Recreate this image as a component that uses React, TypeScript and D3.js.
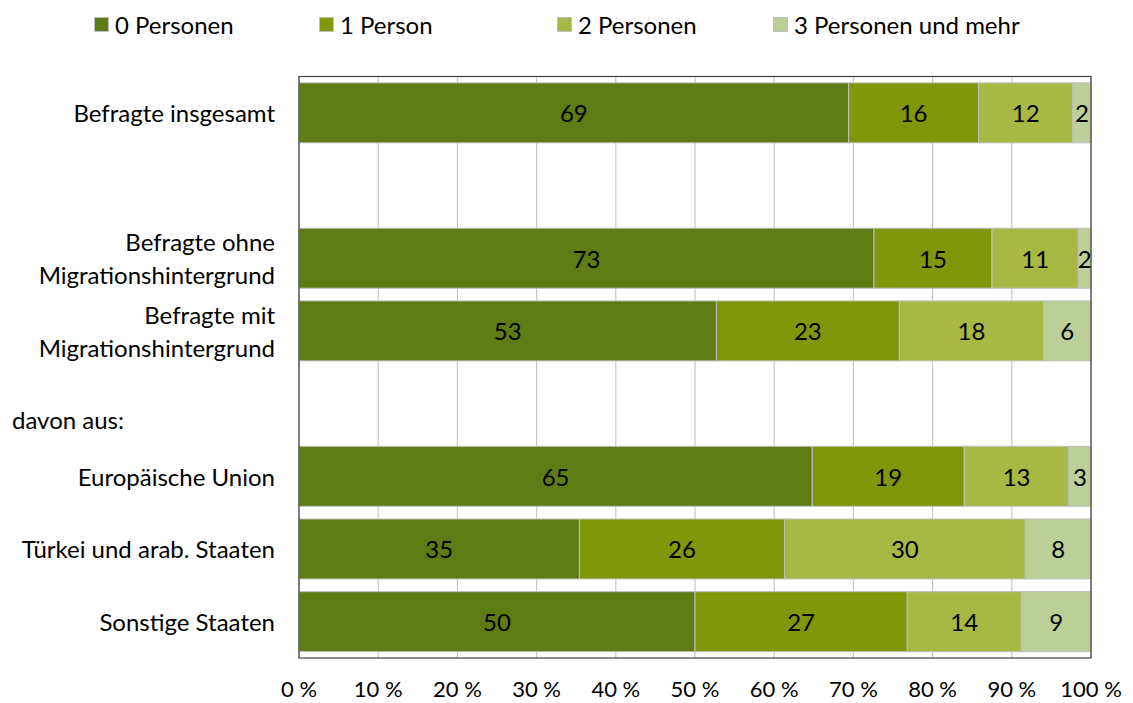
import React from "react";
import * as d3 from "d3";

const categories: string[][] = [
  ["Befragte insgesamt"],
  [],
  ["Befragte ohne", "Migrationshintergrund"],
  ["Befragte mit", "Migrationshintergrund"],
  ["davon aus:"],
  ["Europäische Union"],
  ["Türkei und arab. Staaten"],
  ["Sonstige Staaten"],
];

const seriesNames = ["0 Personen", "1 Person", "2 Personen", "3 Personen und mehr"];
const seriesColors = ["#5e7b14", "#7f9709", "#a8b844", "#bdcf98"];

const persons0: (number | null)[] = [69.4, null, 72.6, 52.7, null, 64.8, 35.4, 50.0];
const persons1: (number | null)[] = [16.4, null, 14.9, 23.1, null, 19.2, 25.9, 26.8];
const persons2: (number | null)[] = [11.9, null, 10.9, 18.2, null, 13.2, 30.4, 14.4];
const persons3: (number | null)[] = [2.3, null, 1.6, 6.0, null, 2.8, 8.3, 8.8];

const xTicks = [0, 10, 20, 30, 40, 50, 60, 70, 80, 90, 100];

const W = 1133;
const H = 703;
const M = { left: 299, right: 1091, top: 76.5, bottom: 658 };
const FONT = "Lato, 'Open Sans', sans-serif";
const FS = 24;

export default function App() {
  const series = [persons0, persons1, persons2, persons3];
  const x = d3.scaleLinear().domain([0, 100]).range([M.left, M.right]);
  const y = d3
    .scaleBand<number>()
    .domain(categories.map((_, i) => i))
    .range([M.top, M.bottom])
    .paddingInner(0.175)
    .paddingOuter(0.0875);
  const bw = y.bandwidth();

  const segs: { key: string; x0: number; x1: number; y0: number; color: string; label: string }[] = [];
  categories.forEach((_, ci) => {
    let acc = 0;
    series.forEach((s, si) => {
      const v = s[ci];
      if (v == null) return;
      segs.push({
        key: `${ci}-${si}`,
        x0: x(acc),
        x1: x(acc + v),
        y0: y(ci)!,
        color: seriesColors[si],
        label: String(Math.round(v)),
      });
      acc += v;
    });
  });

  const legendX = [94, 319, 557, 773];

  return (
    <svg
      width={W}
      height={H}
      style={{ position: "absolute", left: 0, top: 0, background: "#fff" }}
      fontFamily={FONT}
    >
      {/* legend */}
      {seriesNames.map((n, i) => (
        <g key={n}>
          <rect x={legendX[i] + 0.5} y={17.5} width={14} height={14} fill={seriesColors[i]} stroke="#bfbfbf" />
          <text x={legendX[i] + 21} y={24.5} dominantBaseline="central" fontSize={FS} fill="#000">
            {n}
          </text>
        </g>
      ))}

      {/* gridlines */}
      {xTicks.map((t) => (
        <line key={t} x1={x(t)} x2={x(t)} y1={M.top} y2={M.bottom} stroke="#c8c8c8" strokeWidth={1.2} />
      ))}

      {/* bars */}
      {segs.map((s) => (
        <rect
          key={s.key}
          x={s.x0}
          y={s.y0}
          width={s.x1 - s.x0}
          height={bw}
          fill={s.color}
          stroke="#bfbfbf"
          strokeWidth={1}
        />
      ))}
      {segs.map((s) => (
        <text
          key={"t" + s.key}
          x={(s.x0 + s.x1) / 2}
          y={s.y0 + bw / 2}
          textAnchor="middle"
          dominantBaseline="central"
          fontSize={FS}
          fill="#000"
        >
          {s.label}
        </text>
      ))}

      {/* frame */}
      <rect
        x={M.left}
        y={M.top}
        width={M.right - M.left}
        height={M.bottom - M.top}
        fill="none"
        stroke="#404040"
        strokeWidth={1.2}
      />

      {/* category labels */}
      {categories.map((lines, ci) => {
        const cy = y(ci)! + bw / 2;
        if (lines.length === 1 && lines[0] === "davon aus:") {
          return (
            <text key={ci} x={12} y={cy + 16} dominantBaseline="central" fontSize={FS} fill="#000">
              {lines[0]}
            </text>
          );
        }
        const lh = 33;
        return (
          <text key={ci} x={275} textAnchor="end" fontSize={FS} fill="#000">
            {lines.map((l, li) => (
              <tspan key={li} x={275} y={cy + (li - (lines.length - 1) / 2) * lh} dominantBaseline="central">
                {l}
              </tspan>
            ))}
          </text>
        );
      })}

      {/* x tick labels */}
      {xTicks.map((t) => (
        <text key={"x" + t} x={x(t)} y={697} textAnchor="middle" fontSize={22} fill="#000">
          {`${t} %`}
        </text>
      ))}
    </svg>
  );
}
